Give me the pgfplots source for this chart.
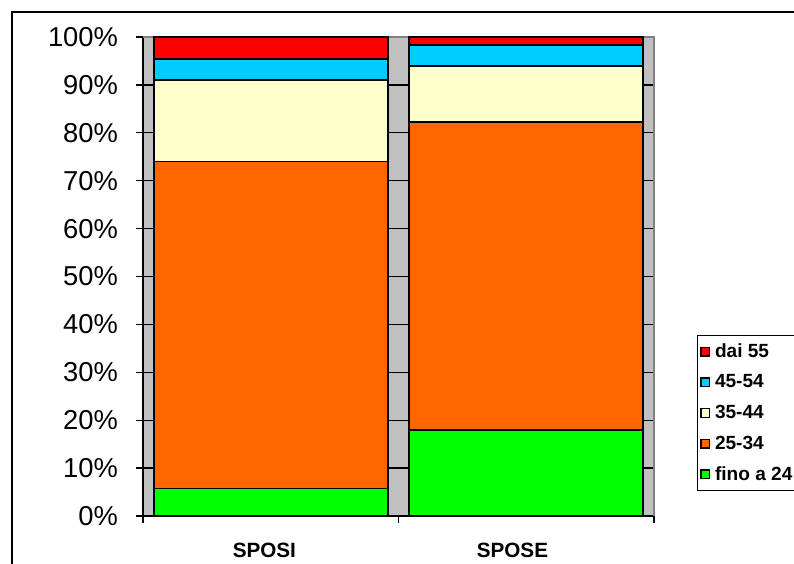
\documentclass[border=0pt]{standalone}
\usepackage{pgfplots}
\pgfplotsset{compat=1.18}
\usepackage{fontspec}
\setmainfont{Liberation Sans}
\definecolor{cred}{RGB}{255,0,0}
\definecolor{cblue}{RGB}{0,204,255}
\definecolor{cyellow}{RGB}{255,255,204}
\definecolor{corange}{RGB}{255,102,0}
\definecolor{cgreen}{RGB}{0,255,0}
\definecolor{silverbg}{RGB}{192,192,192}
\definecolor{edgegray}{RGB}{128,128,128}
\begin{document}
\begin{tikzpicture}
\useasboundingbox (0,0) rectangle (595.5pt,423pt);
\draw[line width=1.1pt] (9pt,-20pt) -- (9pt,414pt) -- (620pt,414pt);
\begin{axis}[
  at={(107.25pt,36pt)}, anchor=south west,
  scale only axis, width=383.25pt, height=359.25pt,
  xmin=-0.5, xmax=1.5, ymin=0, ymax=100,
  clip=false,
  ybar stacked, bar width=0.916,
  axis background/.style={fill=silverbg},
  axis line style={draw=none},
  ymajorgrids, grid style={black, line width=1pt},
  ytick={0,10,...,100},
  ytick pos=left, xtick pos=bottom,
  yticklabel={\pgfmathprintnumber{\tick}\%},
  /pgf/number format/assume math mode=true,
  yticklabel style={font=\fontsize{20.5}{21}\selectfont, xshift=-10pt},
  xtick={-0.5,0.5,1.5},
  xticklabels={},
  extra x ticks={-0.025,0.946},
  extra x tick labels={SPOSI,SPOSE},
  extra x tick style={major tick length=0pt, grid=none,
    xticklabel style={font=\bfseries\fontsize{15.5}{16}\selectfont, yshift=-17pt}},
  tick align=outside, major tick length=5.25pt,
  tick style={black, line width=1pt},
  legend style={at={(axis description cs:1.0841,0.3779)}, anchor=north west,
    draw=black, line width=1pt, fill=white,
    font=\bfseries\fontsize{14.3}{15}\selectfont,
    cells={anchor=west}, row sep=7.5pt, inner xsep=2pt, inner ysep=4pt},
  legend image code/.code={\draw[#1,draw=black,line width=0.9pt] (1pt,-3.3pt) rectangle (7.5pt,3.3pt); \path (9pt,0pt);},
  reverse legend,
]
\addplot[fill=cgreen, draw=black, line width=1.2pt] coordinates {(0,5.7) (1,18.0)};
\addplot[fill=corange, draw=black, line width=1.2pt] coordinates {(0,68.3) (1,64.3)};
\addplot[fill=cyellow, draw=black, line width=1.2pt] coordinates {(0,17.0) (1,11.6)};
\addplot[fill=cblue, draw=black, line width=1.2pt] coordinates {(0,4.4) (1,4.4)};
\addplot[fill=cred, draw=black, line width=1.2pt] coordinates {(0,4.6) (1,1.7)};
\legend{fino a 24,25-34,35-44,45-54,dai 55}
\draw[edgegray, line width=1.5pt] (rel axis cs:0,1) -- (rel axis cs:1,1) -- (rel axis cs:1,0);
\draw[black, line width=1.5pt] (rel axis cs:0,1) -- (rel axis cs:0,0) -- (rel axis cs:1,0);
\end{axis}
\end{tikzpicture}
\end{document}
